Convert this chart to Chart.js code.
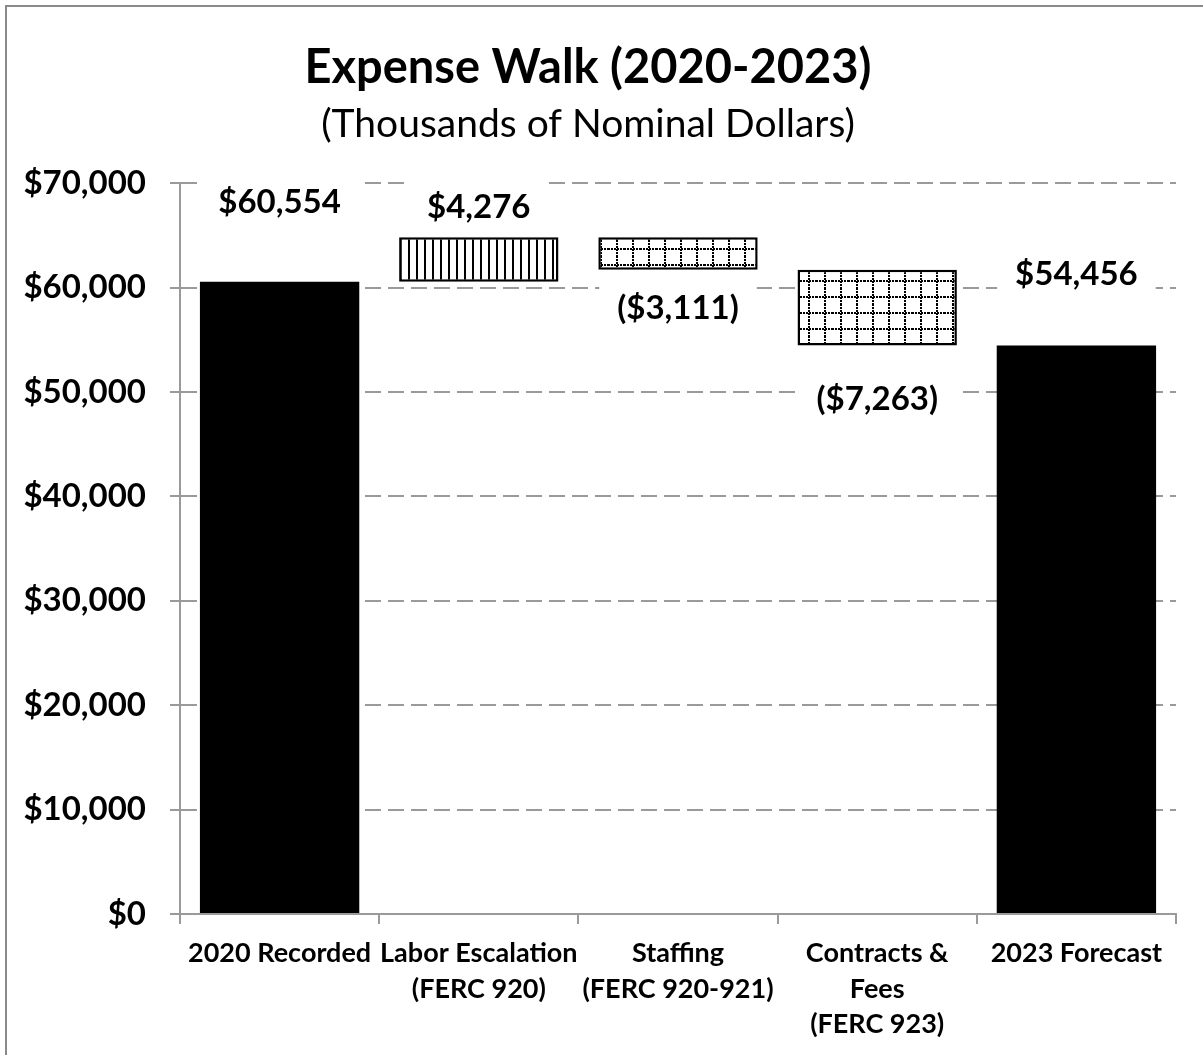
<!DOCTYPE html>
<html>
<head>
<meta charset="utf-8">
<title>Expense Walk (2020-2023)</title>
<script src="https://cdn.jsdelivr.net/npm/chart.js@4.4.1/dist/chart.umd.min.js"></script>
<style>
  html, body { margin: 0; padding: 0; background: #fff; overflow: hidden; }
  #wrap { position: relative; width: 1203px; height: 1055px; }
  #frame { position: absolute; left: 5px; top: 5px; width: 1300px; height: 1200px; border: 2px solid #8a8a8a; box-sizing: border-box; }
  canvas { position: absolute; left: 0; top: 0; }
</style>
</head>
<body>
<div id="wrap">
  <div id="frame"></div>
  <canvas id="walk" width="1203" height="1055"></canvas>
</div>
<script>
// walk steps
const categories = [
    ['2020 Recorded'],
    ['Labor Escalation', '(FERC 920)'],
    ['Staffing', '(FERC 920-921)'],
    ['Contracts &', 'Fees', '(FERC 923)'],
    ['2023 Forecast']
];
const startValue = 60554;
const changes = [4276, -3111, -7263];
const endValue = 54456;

// y axis
const yMin = 0;
const yMax = 70000;
const yStep = 10000;

// how far the value labels sit from their bar (px)
const labelGaps = [79, 30, 39, 54, 71];

const FONT = 'Lato, "Open Sans", sans-serif';
const GRID = '#9a9a9a';

// floating ranges for the walk
let running = startValue;
const ranges = [[0, startValue]];
changes.forEach(c => {
    ranges.push([running, running + c]);
    running += c;
});
ranges.push([0, endValue]);
const labelValues = [startValue, ...changes, endValue];

function fmtMoney(v) {
    const s = '$' + Math.abs(v).toLocaleString('en-US');
    return v < 0 ? '(' + s + ')' : s;
}

// fill patterns
function stripePattern(ctx) {
    const c = document.createElement('canvas');
    c.width = 8; c.height = 8;
    const g = c.getContext('2d');
    g.fillStyle = '#fff';
    g.fillRect(0, 0, 8, 8);
    g.fillStyle = '#000';
    g.fillRect(0, 0, 2, 8);
    return ctx.createPattern(c, 'repeat');
}

function dotGridPattern(ctx) {
    const c = document.createElement('canvas');
    c.width = 16; c.height = 16;
    const g = c.getContext('2d');
    g.fillStyle = '#fff';
    g.fillRect(0, 0, 16, 16);
    g.fillStyle = '#000';
    for (let i = 0; i < 16; i += 3) {
        g.fillRect(i, 8, 2, 2);
        g.fillRect(8, i, 2, 2);
    }
    return ctx.createPattern(c, 'repeat');
}

const ctx = document.getElementById('walk').getContext('2d');
const fills = ['#000', stripePattern(ctx), dotGridPattern(ctx), dotGridPattern(ctx), '#000'];
const borders = [0, 2.5, 2.5, 2.5, 0];

// value labels on white boxes
const walkLabels = {
    id: 'walkLabels',
    afterDatasetsDraw(chart) {
        const c = chart.ctx;
        const meta = chart.getDatasetMeta(0);
        c.save();
        c.font = 'bold 33px ' + FONT;
        c.textAlign = 'center';
        c.textBaseline = 'middle';
        meta.data.forEach((bar, i) => {
            const p = bar.getProps(['x', 'y', 'base'], true);
            const top = Math.min(p.y, p.base);
            const bottom = Math.max(p.y, p.base);
            const v = labelValues[i];
            const down = i > 0 && i < labelValues.length - 1 && v < 0;
            const ly = down ? bottom + labelGaps[i] : top - labelGaps[i];
            const text = fmtMoney(v);
            const w = c.measureText(text).width + 36;
            c.fillStyle = '#fff';
            c.fillRect(p.x - w / 2, ly - 26, w, 52);
            c.fillStyle = '#000';
            c.fillText(text, p.x, ly);
        });
        c.restore();
    }
};

new Chart(ctx, {
    type: 'bar',
    data: {
        labels: categories,
        datasets: [{
            data: ranges,
            backgroundColor: fills,
            borderColor: '#000',
            borderWidth: borders,
            borderSkipped: false,
            categoryPercentage: 1,
            barPercentage: 0.8
        }]
    },
    options: {
        responsive: false,
        animation: false,
        layout: {
            padding: { left: 0, right: 27, top: 0, bottom: 0 }
        },
        plugins: {
            legend: { display: false },
            tooltip: { enabled: false },
            title: {
                display: true,
                text: 'Expense Walk (2020-2023)',
                color: '#000',
                font: { family: FONT, size: 47, weight: 'bold', lineHeight: 1.2 },
                padding: { top: 40, bottom: 0 }
            },
            subtitle: {
                display: true,
                text: '(Thousands of Nominal Dollars)',
                color: '#000',
                font: { family: FONT, size: 39, weight: 'normal', lineHeight: 1.2 },
                padding: { top: 5, bottom: 35 }
            }
        },
        scales: {
            x: {
                afterFit: s => { s.height = 141; },
                grid: {
                    display: true,
                    offset: true,
                    drawOnChartArea: false,
                    color: GRID,
                    lineWidth: 2,
                    tickLength: 10
                },
                border: { display: true, color: GRID, width: 2 },
                ticks: {
                    color: '#000',
                    padding: 11,
                    maxRotation: 0,
                    autoSkip: false,
                    font: { family: FONT, size: 27, weight: 'bold', lineHeight: 1.33 }
                }
            },
            y: {
                min: yMin,
                max: yMax,
                afterFit: s => { s.width = 180; },
                grid: {
                    color: GRID,
                    lineWidth: 2,
                    tickLength: 10,
                    tickColor: GRID,
                    tickBorderDash: []
                },
                border: { display: true, color: GRID, width: 2, dash: [16, 7] },
                ticks: {
                    stepSize: yStep,
                    color: '#000',
                    padding: 24,
                    font: { family: FONT, size: 33, weight: 'bold' },
                    callback: v => fmtMoney(v)
                }
            }
        }
    },
    plugins: [walkLabels]
});
</script>
</body>
</html>
